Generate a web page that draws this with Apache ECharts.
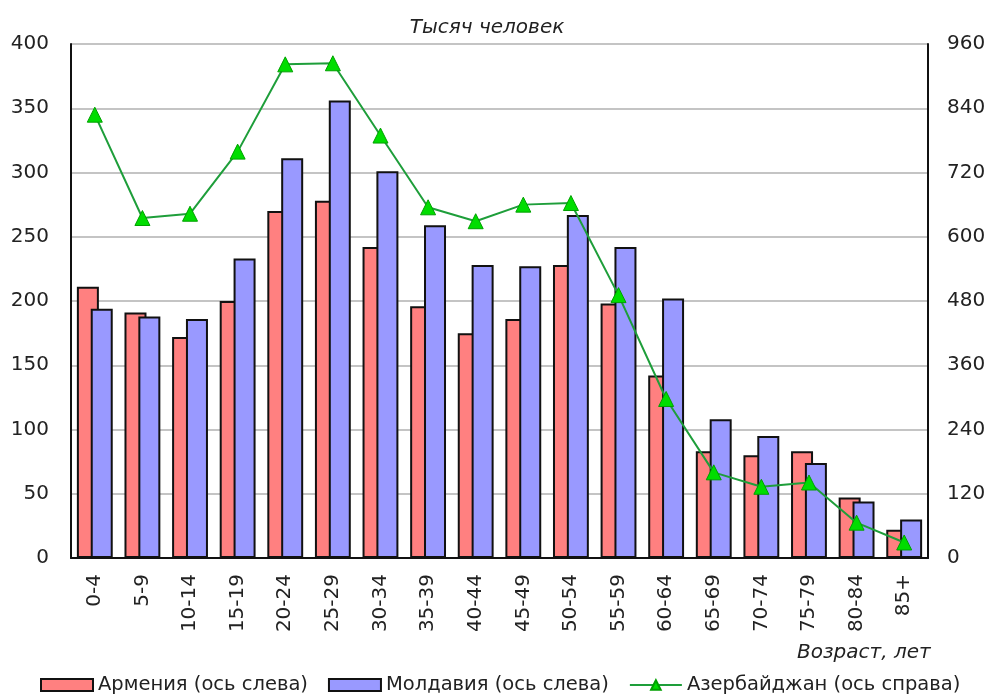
<!DOCTYPE html>
<html>
<head>
<meta charset="utf-8">
<script src="https://cdn.jsdelivr.net/npm/echarts@6/dist/echarts.min.js"></script>
<style>
  html, body { margin: 0; padding: 0; background: #fff; }
  #main { width: 989px; height: 695px; }
</style>
</head>
<body>
<div id="main"></div>
<script>
var ageGroups = ['0-4', '5-9', '10-14', '15-19', '20-24', '25-29', '30-34', '35-39', '40-44',
    '45-49', '50-54', '55-59', '60-64', '65-69', '70-74', '75-79', '80-84', '85+'];
var armenia = [211, 191, 172, 200, 270, 278, 242, 196, 175, 186, 228, 198, 142, 83, 80, 83, 47, 22];
var moldova = [194, 188, 186, 233, 311, 356, 301, 259, 228, 227, 267, 242, 202, 108, 95, 74, 44, 30];
var azerbaijan = [828, 635, 643, 759, 922, 924, 789, 655, 629, 660, 663, 491, 297, 160, 133, 141, 66, 29];
var leftTicks = { min: 0, max: 400, interval: 50 };
var rightTicks = { min: 0, max: 960, interval: 120 };

(function() {
    var chartDom = document.getElementById('main');
    var myChart = echarts.init(chartDom);
    var font = 'DejaVu Sans, Verdana, sans-serif';
    var option = {
        backgroundColor: '#fff',
        animation: false,
        textStyle: { fontFamily: font },
        title: [{
            text: 'Тысяч человек',
            left: 482,
            top: 13,
            textAlign: 'center',
            textStyle: { fontSize: 20, fontStyle: 'italic', fontWeight: 'normal', color: '#222', fontFamily: font }
        }, {
            text: 'Возраст, лет',
            left: 792,
            top: 638,
            textStyle: { fontSize: 20, fontStyle: 'italic', fontWeight: 'normal', color: '#222', fontFamily: font }
        }],
        legend: {
            left: 40,
            top: 675,
            width: 949,
            padding: 0,
            itemWidth: 52,
            itemHeight: 12,
            itemGap: 20,
            textStyle: { fontSize: 19.5, color: '#222', fontFamily: font },
            data: [
                { name: 'Армения (ось слева)', icon: 'rect' },
                { name: 'Молдавия (ось слева)', icon: 'rect' },
                { name: 'Азербайджан (ось справа)' }
            ]
        },
        grid: {
            left: 71,
            right: 61,
            top: 44,
            bottom: 137,
            show: true,
            borderColor: '#888',
            borderWidth: 1
        },
        xAxis: {
            type: 'category',
            data: ageGroups,
            axisLine: { lineStyle: { color: '#111', width: 2 } },
            axisTick: { show: false },
            axisLabel: { rotate: 90, fontSize: 20, color: '#222', margin: 16, fontFamily: font }
        },
        yAxis: [{
            type: 'value',
            min: leftTicks.min,
            max: leftTicks.max,
            interval: leftTicks.interval,
            axisLine: { show: true, lineStyle: { color: '#111', width: 2 } },
            axisTick: { show: false },
            axisLabel: { fontSize: 20, color: '#222', margin: 22, fontFamily: font },
            splitLine: { lineStyle: { color: '#c4c4c4', width: 2 } }
        }, {
            type: 'value',
            min: rightTicks.min,
            max: rightTicks.max,
            interval: rightTicks.interval,
            position: 'right',
            axisLine: { show: true, lineStyle: { color: '#111', width: 2 } },
            axisTick: { show: false },
            axisLabel: { fontSize: 20, color: '#222', margin: 19, fontFamily: font },
            splitLine: { show: false }
        }],
        series: [{
            name: 'Армения (ось слева)',
            type: 'bar',
            data: armenia,
            barWidth: 22,
            barGap: '-37%',
            itemStyle: { color: '#ff8080', borderColor: '#111', borderWidth: 2 }
        }, {
            name: 'Молдавия (ось слева)',
            type: 'bar',
            data: moldova,
            barWidth: 22,
            itemStyle: { color: '#9999ff', borderColor: '#111', borderWidth: 2 }
        }, {
            name: 'Азербайджан (ось справа)',
            type: 'line',
            yAxisIndex: 1,
            data: azerbaijan,
            symbol: 'triangle',
            symbolSize: 15,
            lineStyle: { color: '#1e9e3a', width: 2 },
            itemStyle: { color: '#00dd00', borderColor: '#00a000', borderWidth: 1 }
        }]
    };

    myChart.setOption(option);

    window.addEventListener("resize", function() {
        myChart.resize();
    });
})();
</script>
</body>
</html>
